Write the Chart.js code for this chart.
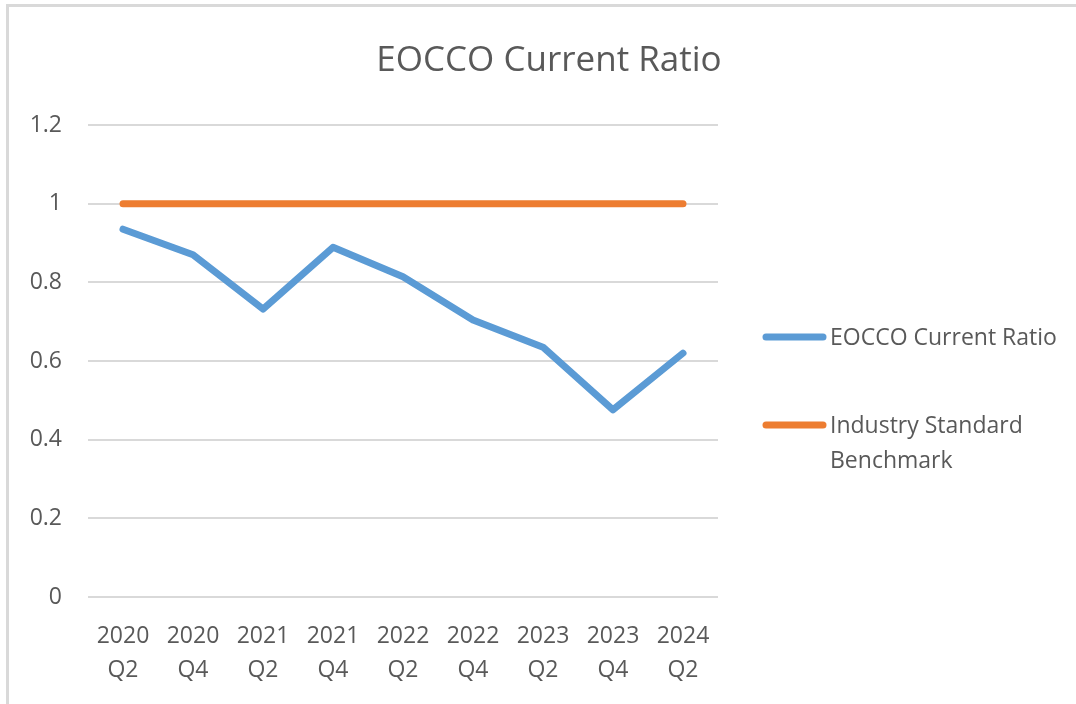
<!DOCTYPE html>
<html>
<head>
<meta charset="utf-8">
<script src="https://cdn.jsdelivr.net/npm/chart.js@4.4.0/dist/chart.umd.min.js"></script>
<style>
  html, body { margin: 0; padding: 0; background: #ffffff; }
  #wrap { position: relative; width: 1076px; height: 704px; overflow: hidden; }
  #c { position: absolute; left: 0; top: 0; }
  .bt { position: absolute; left: 6px; top: 4px; width: 1070px; height: 3px; background: #d9d9d9; }
  .bl { position: absolute; left: 6px; top: 4px; width: 3px; height: 700px; background: #d9d9d9; }
</style>
</head>
<body>
<div id="wrap">
  <canvas id="c" width="1076" height="704"></canvas>
  <div class="bt"></div>
  <div class="bl"></div>
</div>
<script>
const chartTitle = "EOCCO Current Ratio";
const categories = ["2020 Q2", "2020 Q4", "2021 Q2", "2021 Q4", "2022 Q2", "2022 Q4", "2023 Q2", "2023 Q4", "2024 Q2"];
const currentRatio = [0.935, 0.870, 0.732, 0.889, 0.814, 0.704, 0.635, 0.476, 0.620];
const benchmark = [1, 1, 1, 1, 1, 1, 1, 1, 1];
const seriesNames = ["EOCCO Current Ratio", ["Industry Standard", "Benchmark"]];
const yTicks = [0, 0.2, 0.4, 0.6, 0.8, 1, 1.2];

const FONT = "'Open Sans', 'DejaVu Sans', sans-serif";
const TEXT = "#595959";

const titleLegendPlugin = {
  id: 'titleLegend',
  afterDraw(chart) {
    const ctx = chart.ctx;
    ctx.save();
    ctx.fillStyle = TEXT;
    ctx.font = "35px " + FONT;
    ctx.textAlign = 'center';
    ctx.textBaseline = 'alphabetic';
    ctx.fillText(chartTitle, 549, 71);

    const ys = [337, 425];
    const baselines = [[345], [433, 468]];
    chart.data.datasets.forEach((ds, i) => {
      ctx.strokeStyle = ds.borderColor;
      ctx.lineWidth = 7;
      ctx.lineCap = 'round';
      ctx.beginPath();
      ctx.moveTo(766, ys[i]);
      ctx.lineTo(823, ys[i]);
      ctx.stroke();
      ctx.fillStyle = TEXT;
      ctx.font = "23px " + FONT;
      ctx.textAlign = 'left';
      const lines = Array.isArray(ds.label) ? ds.label : [ds.label];
      lines.forEach((t, j) => ctx.fillText(t, 830, baselines[i][j]));
    });
    ctx.restore();
  }
};

new Chart(document.getElementById('c'), {
  type: 'line',
  data: {
    labels: categories.map(c => c.split(' ')),
    datasets: [
      {
        label: seriesNames[0],
        data: currentRatio,
        borderColor: '#5B9BD5',
        backgroundColor: '#5B9BD5',
        borderWidth: 7,
        pointRadius: 0,
        pointHoverRadius: 0,
        tension: 0,
        borderCapStyle: 'round',
        borderJoinStyle: 'round',
        fill: false
      },
      {
        label: seriesNames[1],
        data: benchmark,
        borderColor: '#ED7D31',
        backgroundColor: '#ED7D31',
        borderWidth: 7,
        pointRadius: 0,
        pointHoverRadius: 0,
        tension: 0,
        borderCapStyle: 'round',
        borderJoinStyle: 'round',
        fill: false
      }
    ]
  },
  options: {
    responsive: false,
    animation: false,
    layout: { padding: { top: 125, right: 358, left: 28, bottom: 0 } },
    plugins: {
      legend: { display: false },
      title: { display: false },
      tooltip: { enabled: false }
    },
    scales: {
      x: {
        type: 'category',
        offset: true,
        grid: { display: false, drawTicks: false },
        border: { display: false },
        ticks: {
          color: TEXT,
          font: { family: FONT, size: 23, lineHeight: 1.48 },
          padding: 22,
          maxRotation: 0,
          minRotation: 0,
          autoSkip: false
        },
        afterFit(scale) { scale.height = 107; }
      },
      y: {
        min: 0,
        max: 1.2,
        afterBuildTicks(scale) { scale.ticks = yTicks.map(v => ({ value: v })); },
        grid: { color: '#d9d9d9', lineWidth: 2, drawTicks: false },
        border: { display: false },
        ticks: {
          color: TEXT,
          font: { family: FONT, size: 23 },
          padding: 26,
          callback: v => String(Math.round(v * 10) / 10)
        },
        afterFit(scale) { scale.width = 60; }
      }
    }
  },
  plugins: [titleLegendPlugin]
});
</script>
</body>
</html>
